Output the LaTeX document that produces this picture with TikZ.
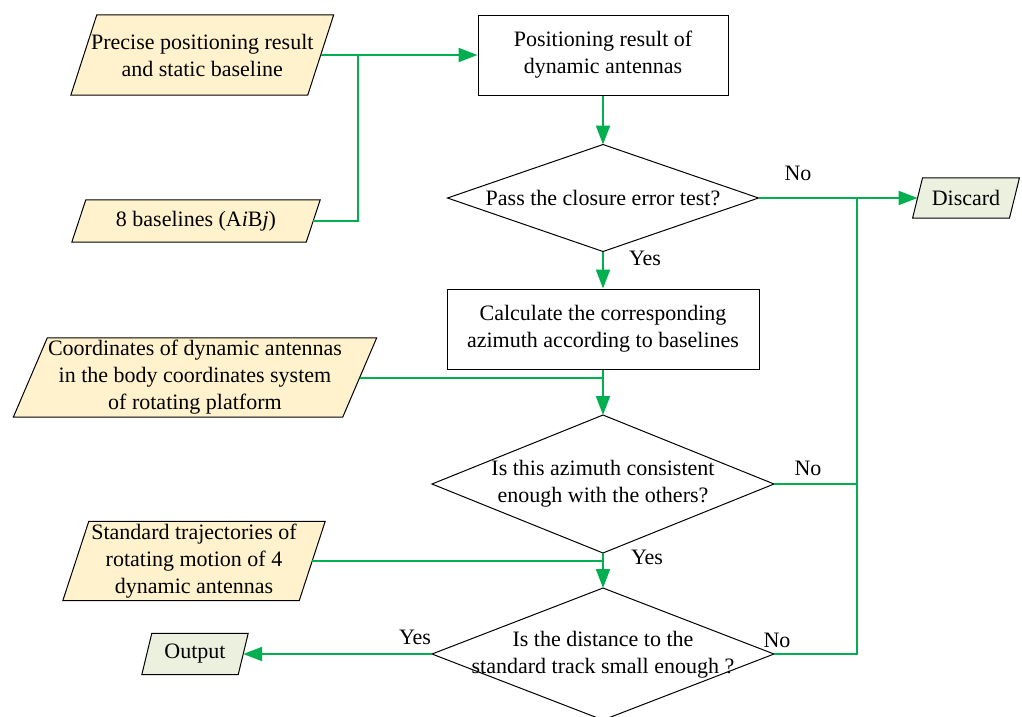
\documentclass[tikz,border=0pt]{standalone}
\usepackage{fontspec}
\setmainfont{Liberation Serif}
\usetikzlibrary{arrows.meta,backgrounds,calc}

\definecolor{flowgreen}{RGB}{0,176,80}
\definecolor{inputfill}{RGB}{255,242,204}
\definecolor{endfill}{RGB}{235,241,222}

\tikzset{
  txt/.style={font=\fontsize{22}{27}\selectfont, align=center, inner sep=0pt},
  procbox/.style={txt, draw=black, line width=1pt, fill=white},
  paramid/.style={txt, rectangle},
  outline/.style={draw=black, line width=1pt},
  flow/.style={draw=flowgreen, line width=2pt},
  flowarrow/.style={flow, -{Triangle[length=19pt,width=14pt]}},
  lbl/.style={txt}
}

% slanted data box around the mid-line rectangle of node #1, half slant #2
\newcommand\slantbox[3]{%
  \path[outline, fill=#3]
    ([xshift=#2]#1.north west) -- ([xshift=#2]#1.north east) --
    ([xshift=-#2]#1.south east) -- ([xshift=-#2]#1.south west) -- cycle;}

\begin{document}
\begin{tikzpicture}[x=1pt, y=-1pt]
  \useasboundingbox (0,0) rectangle (1022,716);

  % input data
  \node[paramid, minimum width=236.5, minimum height=80] (p1) at (202.25,55)
    {Precise positioning result\\and static baseline};
  \node[paramid, minimum width=234, minimum height=42] (p2) at (196,221)
    {8 baselines (A\textit{i}B\textit{j})};
  \node[paramid, minimum width=329, minimum height=79] (p3) at (195,377.5)
    {Coordinates of dynamic antennas\\in the body coordinates system\\of rotating platform};
  \node[paramid, minimum width=236, minimum height=79] (p4) at (194,561)
    {Standard trajectories of\\rotating motion of 4\\dynamic antennas};

  % terminal data
  \node[paramid, minimum width=96.5, minimum height=40] (disc) at (966,198) {Discard};
  \node[paramid, minimum width=96, minimum height=41] (out) at (195,654) {Output};

  % processes
  \node[procbox, minimum width=250, minimum height=80] (b1) at (603,55)
    {Positioning result of\\dynamic antennas};
  \node[procbox, minimum width=312, minimum height=80] (b2) at (603,329)
    {Calculate the corresponding\\azimuth according to baselines};

  % decisions
  \node[txt] (d1) at (603,198) {Pass the closure error test?};
  \coordinate (d1t) at (603,144.5);
  \coordinate (d1r) at (758.5,198);
  \coordinate (d1b) at (603,251.5);
  \coordinate (d1l) at (447.5,198);

  \node[txt] (d2) at (603,484) {Is this azimuth consistent\\enough with the others?};
  \coordinate (d2t) at (603,415);
  \coordinate (d2r) at (774,484);
  \coordinate (d2b) at (603,553);
  \coordinate (d2l) at (432,484);

  \node[txt] (d3) at (603,655) {Is the distance to the\\standard track small enough ?};
  \coordinate (d3t) at (603,588);
  \coordinate (d3r) at (774,654);
  \coordinate (d3b) at (603,720);
  \coordinate (d3l) at (432,654);

  \begin{scope}[on background layer]
    \fill[white] (0,0) rectangle (1022,716);
    \slantbox{p1}{13}{inputfill}
    \slantbox{p2}{7}{inputfill}
    \slantbox{p3}{17}{inputfill}
    \slantbox{p4}{13}{inputfill}
    \slantbox{disc}{5}{endfill}
    \slantbox{out}{5}{endfill}
    \path[outline, fill=white] (d1t) -- (d1r) -- (d1b) -- (d1l) -- cycle;
    \path[outline, fill=white] (d2t) -- (d2r) -- (d2b) -- (d2l) -- cycle;
    \path[outline, fill=white] (d3t) -- (d3r) -- (d3b) -- (d3l) -- cycle;
  \end{scope}

  % branch labels
  \node[lbl] (no1) at (798,173) {No};
  \node[lbl] (yes1) at (645,258) {Yes};
  \node[lbl] (no2) at (808,468) {No};
  \node[lbl] (yes2) at (647,557) {Yes};
  \node[lbl] (no3) at (777,640) {No};
  \node[lbl] (yes3) at (415,637) {Yes};

  % connectors
  \coordinate (j1) at (358,55);
  \coordinate (bus) at (857,198);
  \draw[flowarrow] (p1.east) -- (b1.west);
  \draw[flow] (p2.east) -| (j1);
  \draw[flowarrow] (b1.south) -- (d1t);
  \draw[flowarrow] (d1r) -- (disc.west);
  \draw[flowarrow] (d1b) -- (b2.north);
  \draw[flow] (p3.east) -- (p3.east -| b2.south);
  \draw[flowarrow] (b2.south) -- (d2t);
  \draw[flow] (d2r) -| (bus);
  \draw[flow] (d3r) -| (bus);
  \draw[flow] (p4.east) -- (p4.east -| d2b);
  \draw[flowarrow] (d2b) -- (d3t);
  \draw[flowarrow] (d3l) -- (out.east);
\end{tikzpicture}
\end{document}
